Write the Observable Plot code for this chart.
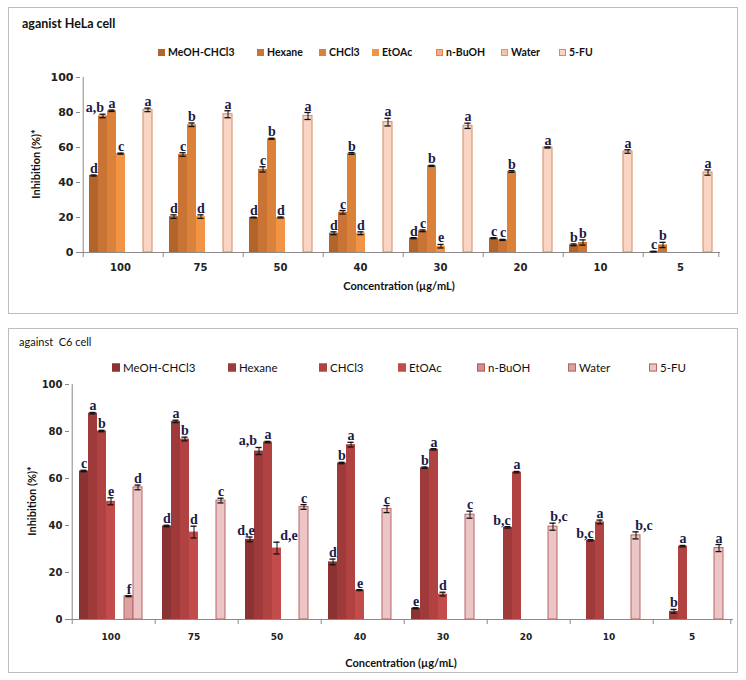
<!DOCTYPE html>
<html><head><meta charset="utf-8">
<script src="https://cdn.jsdelivr.net/npm/d3@7"></script>
<script src="https://cdn.jsdelivr.net/npm/@observablehq/plot@0.6"></script>
<style>
body{margin:0;background:#fff;}
#root{position:relative;width:746px;height:680px;}
.panel{position:absolute;left:8px;width:730px;border:1px solid #bdbdbd;box-sizing:border-box;background:#fff;}
.panel svg{position:absolute;left:0;}
.ttl{position:absolute;white-space:pre;font-family:Lato,sans-serif;color:#111;transform:translateY(-50%);}
.leg{position:absolute;white-space:pre;font-family:Lato,sans-serif;color:#111;transform:translateY(-50%);display:flex;align-items:center;}
.sw{display:inline-block;box-sizing:border-box;margin-right:3px;}
.ax{position:absolute;white-space:pre;font-family:Lato,sans-serif;font-weight:bold;color:#111;}
</style></head><body><div id="root"></div>
<script>
// ---------- data ----------
const concs = ["100","75","50","40","30","20","10","5"];
const seriesNames = ["MeOH-CHCl3","Hexane","CHCl3","EtOAc","n-BuOH","Water","5-FU"];
const yTicks = [0,20,40,60,80,100];
const xTitle = "Concentration (µg/mL)";
const yTitle = "Inhibition (%)*";

// HeLa panel
const helaTitle = "aganist HeLa cell";
const helaMeOH   = [44, 20.5, 20, 11, 8.2, 8.2, 4.4, 0.5];
const helaHexane = [78, 56, 47.5, 23, 12.4, 7.2, 5.7, 4.3];
const helaCHCl3  = [81, 73, 65, 56.6, 49.5, 46.3, null, null];
const helaEtOAc  = [56.5, 20.5, 20, 11, 3.6, null, null, null];
const helaBuOH   = [null, null, null, null, null, null, null, null];
const helaWater  = [null, null, null, null, null, null, null, null];
const hela5FU    = [81.5, 79, 78, 74.5, 72.4, 60, 57.7, 45.7];
const helaErrMeOH   = [0.3, 1, 0.2, 0.8, 0.3, 0.3, 0.5, 0.2];
const helaErrHexane = [1, 1, 1.5, 1, 0.5, 0.3, 1.5, 1.5];
const helaErrCHCl3  = [0.4, 1, 0.3, 0.5, 0.3, 0.5, null, null];
const helaErrEtOAc  = [0.3, 1, 0.3, 0.8, 1, null, null, null];
const helaErr5FU    = [1, 2, 2, 2.2, 1.5, 0.3, 1, 1.5];
const helaLetMeOH   = ["d","d","d","d","d","c","b","c"];
const helaLetHexane = ["a,b","c","c","c","c","c","b","b"];
const helaLetCHCl3  = ["a","b","b","b","b","b",null,null];
const helaLetEtOAc  = ["c","d","d","d","e",null,null,null];
const helaLet5FU    = ["a","a","a","a","a","a","a","a"];

// C6 panel
const c6Title = "against  C6 cell";
const c6MeOH   = [63.2, 39.8, 34.1, 24.5, 4.8, null, null, null];
const c6Hexane = [87.8, 84.3, 71.7, 66.6, 64.6, 39.2, 33.7, 3.5];
const c6CHCl3  = [80.2, 76.8, 75.5, 74.4, 72.4, 62.7, 41.5, 31.2];
const c6EtOAc  = [50.3, 37.2, 30.4, 12.5, 10.8, null, null, null];
const c6BuOH   = [null, null, null, null, null, null, null, null];
const c6Water  = [9.9, null, null, null, null, null, null, null];
const c65FU    = [56.2, 50.6, 47.9, 47, 44.6, 39.5, 35.8, 30.4];
const c6ErrMeOH   = [0.3, 0.3, 1, 1.2, 0.2, null, null, null];
const c6ErrHexane = [0.3, 0.5, 1.5, 0.3, 0.3, 0.3, 0.3, 0.8];
const c6ErrCHCl3  = [0.3, 0.8, 0.3, 1, 0.3, 0.3, 0.8, 0.3];
const c6ErrEtOAc  = [1.5, 2.5, 2.5, 0.2, 0.8, null, null, null];
const c6ErrWater  = [0.2, null, null, null, null, null, null, null];
const c6Err5FU    = [1, 1, 1, 1.5, 1.5, 1.5, 1.5, 1.5];
const c6LetMeOH   = ["c","d","d,e","d","e",null,null,null];
const c6LetHexane = ["a","a","a,b","b","b","b,c","b,c","b"];
const c6LetCHCl3  = ["b","b","a","a","a","a","a","a"];
const c6LetEtOAc  = ["e","d","d,e","e","d",null,null,null];
const c6LetWater  = ["f",null,null,null,null,null,null,null];
const c6Let5FU    = ["d","c","c","c","c","b,c","b,c","a"];

// colours
const helaFills   = ["#b3642b","#c97434","#db823a","#f29446","#f5ae88","#f8c4a8","#fad5c4"];
const helaStrokes = ["none","none","none","none","#e0844e","#e0956a","#d88a60"];
const c6Fills     = ["#8b3232","#9e3a3a","#b04242","#c24c4c","#d48e8e","#dba2a2","#ecc6c6"];
const c6Strokes   = ["none","none","none","none","#b55a5a","#b66565","#b86464"];

// layout nudges for hand-placed significance labels (px, horizontal)
const helaNudge = {"100|Hexane": -8};
const c6Nudge = {"50|MeOH-CHCl3": -4, "50|Hexane": -11, "50|EtOAc": 12,
  "20|Hexane": -6, "20|5-FU": 6, "10|Hexane": -6, "10|5-FU": 8};

// ---------- helpers ----------
function buildRows(vals, errs, lets, nudge) {
  const rows = [];
  seriesNames.forEach((s, si) => concs.forEach((c, ci) => {
    const v = vals[si][ci];
    if (v == null) return;
    rows.push({conc: c, series: s, value: v,
      err: (errs[si] && errs[si][ci] != null) ? errs[si][ci] : 0,
      letter: (lets[si] && lets[si][ci]) ? lets[si][ci] : "",
      nudge: nudge[c + "|" + s] || 0});
  }));
  return rows;
}
const none8 = [null,null,null,null,null,null,null,null];
const helaRows = buildRows(
  [helaMeOH, helaHexane, helaCHCl3, helaEtOAc, helaBuOH, helaWater, hela5FU],
  [helaErrMeOH, helaErrHexane, helaErrCHCl3, helaErrEtOAc, none8, none8, helaErr5FU],
  [helaLetMeOH, helaLetHexane, helaLetCHCl3, helaLetEtOAc, none8, none8, helaLet5FU], helaNudge);
const c6Rows = buildRows(
  [c6MeOH, c6Hexane, c6CHCl3, c6EtOAc, c6BuOH, c6Water, c65FU],
  [c6ErrMeOH, c6ErrHexane, c6ErrCHCl3, c6ErrEtOAc, none8, c6ErrWater, c6Err5FU],
  [c6LetMeOH, c6LetHexane, c6LetCHCl3, c6LetEtOAc, none8, c6LetWater, c6Let5FU], c6Nudge);

function chart(rows, cfg) {
  const plotW = cfg.width - cfg.ml - cfg.mr;
  const step = plotW / concs.length / (seriesNames.length + 2 * cfg.po);
  const edge = step * (0.5 + cfg.po);
  const capInset = Math.max(0, (step - 7) / 2);
  const axisColor = "#8a8a8a";
  const fillOf = d => cfg.fills[seriesNames.indexOf(d.series)];
  const strokeOf = d => cfg.strokes[seriesNames.indexOf(d.series)];
  const first = seriesNames[0], last = seriesNames[seriesNames.length - 1];
  const labelStyle = {fx: "conc", x: "series", y: d => d.value + d.err, text: "letter",
    lineAnchor: "bottom", dy: -2, fontFamily: "Liberation Serif", fontWeight: "bold", fontSize: 14, fill: "#1b1b45"};
  const nudges = Array.from(new Set(rows.map(d => d.nudge)));
  return Plot.plot({
    width: cfg.width, height: cfg.height,
    marginLeft: cfg.ml, marginRight: cfg.mr, marginTop: cfg.mt, marginBottom: cfg.mb,
    style: {background: "transparent", overflow: "visible"},
    fx: {domain: concs, padding: 0, label: null},
    x: {domain: seriesNames, paddingInner: 0, paddingOuter: cfg.po, axis: null},
    y: {domain: [0, 100], label: null},
    marks: [
      Plot.barY(rows, {fx: "conc", x: "series", y: "value", fill: fillOf, stroke: strokeOf, strokeWidth: 1}),
      Plot.ruleY([0], {stroke: axisColor}),
      Plot.ruleX(concs, {fx: d => d, x: () => first, y1: 0, y2: 0, insetBottom: -5, dx: -edge, stroke: axisColor}),
      Plot.ruleX([concs[concs.length - 1]], {fx: d => d, x: () => last, y1: 0, y2: 0, insetBottom: -5, dx: edge, stroke: axisColor}),
      Plot.ruleX([concs[0]], {fx: d => d, x: () => first, y1: 0, y2: 100, dx: -edge, stroke: axisColor}),
      Plot.axisY({ticks: yTicks, tickSize: 4, tickPadding: 3, fontFamily: "DejaVu Sans", fontWeight: "bold",
        fontSize: cfg.yFont, fill: "#222", stroke: axisColor, label: null}),
      Plot.axisFx({anchor: "bottom", tickSize: 0, tickPadding: cfg.fxPad, fontFamily: "DejaVu Sans", fontWeight: "bold",
        fontSize: cfg.xFont, fill: "#222", label: null}),
      Plot.ruleX(rows, {fx: "conc", x: "series", y1: d => d.value - d.err, y2: d => d.value + d.err, stroke: "#111", strokeWidth: 1}),
      Plot.tickY(rows, {fx: "conc", x: "series", y: d => d.value + d.err, stroke: "#111", strokeWidth: 1.3, insetLeft: capInset, insetRight: capInset}),
      Plot.tickY(rows, {fx: "conc", x: "series", y: d => d.value - d.err, stroke: "#111", strokeWidth: 1.3, insetLeft: capInset, insetRight: capInset}),
      ...nudges.map(n => Plot.text(rows.filter(d => d.letter && d.nudge === n), {...labelStyle, dx: n}))
    ]
  });
}

function panel(cfg) {
  const p = document.createElement("div");
  p.className = "panel";
  p.style.top = cfg.top + "px";
  p.style.height = cfg.h + "px";
  const t = document.createElement("div");
  t.className = "ttl";
  t.textContent = cfg.title;
  Object.assign(t.style, {left: cfg.titleX + "px", top: cfg.titleY + "px", fontSize: cfg.titleSize + "px", fontWeight: cfg.titleWeight});
  p.appendChild(t);
  seriesNames.forEach((s, i) => {
    const it = document.createElement("div");
    it.className = "leg";
    Object.assign(it.style, {left: cfg.legX[i] + "px", top: cfg.legY + "px", fontSize: cfg.legSize + "px", fontWeight: cfg.legWeight});
    const sw = document.createElement("span");
    sw.className = "sw";
    const st = cfg.strokes[i] === "none" ? cfg.fills[i] : cfg.strokes[i];
    Object.assign(sw.style, {width: cfg.sw + "px", height: cfg.sw + "px", background: cfg.fills[i], border: "1px solid " + st});
    it.appendChild(sw);
    it.appendChild(document.createTextNode(s));
    p.appendChild(it);
  });
  const svg = chart(cfg.rows, cfg);
  svg.style.top = cfg.svgTop + "px";
  p.appendChild(svg);
  const yt = document.createElement("div");
  yt.className = "ax";
  yt.textContent = yTitle;
  Object.assign(yt.style, {left: cfg.yTitleX + "px", top: cfg.yTitleY + "px", fontSize: cfg.axSize + "px",
    transform: "translate(-50%,-50%) rotate(-90deg)"});
  p.appendChild(yt);
  const xt = document.createElement("div");
  xt.className = "ax";
  xt.textContent = xTitle;
  Object.assign(xt.style, {left: cfg.xTitleX + "px", top: cfg.xTitleY + "px", fontSize: cfg.axSize + "px",
    transform: "translate(-50%,-50%)"});
  p.appendChild(xt);
  document.getElementById("root").appendChild(p);
}

panel({
  rows: helaRows, title: helaTitle, fills: helaFills, strokes: helaStrokes,
  top: 7, h: 307, titleX: 13, titleY: 15, titleSize: 12.5, titleWeight: "bold",
  legX: [149, 248, 310, 363, 427, 492, 550], legY: 44, legSize: 10.5, legWeight: "bold", sw: 7,
  svgTop: 54, width: 728, height: 250, ml: 69, mr: 16, mt: 15, mb: 60, po: 0.6,
  yFont: 11, xFont: 10, fxPad: 11,
  yTitleX: 26, yTitleY: 156, xTitleX: 390, xTitleY: 277, axSize: 11
});
panel({
  rows: c6Rows, title: c6Title, fills: c6Fills, strokes: c6Strokes,
  top: 328, h: 345, titleX: 10, titleY: 12, titleSize: 11, titleWeight: "normal",
  legX: [103, 219, 310, 389, 468, 559, 640], legY: 38, legSize: 11.5, legWeight: "normal", sw: 8,
  svgTop: 49, width: 728, height: 292, ml: 60, mr: 4, mt: 6, mb: 51, po: 0.69,
  yFont: 10, xFont: 9, fxPad: 14,
  yTitleX: 22, yTitleY: 172, xTitleX: 392, xTitleY: 333, axSize: 11
});
</script></body></html>
